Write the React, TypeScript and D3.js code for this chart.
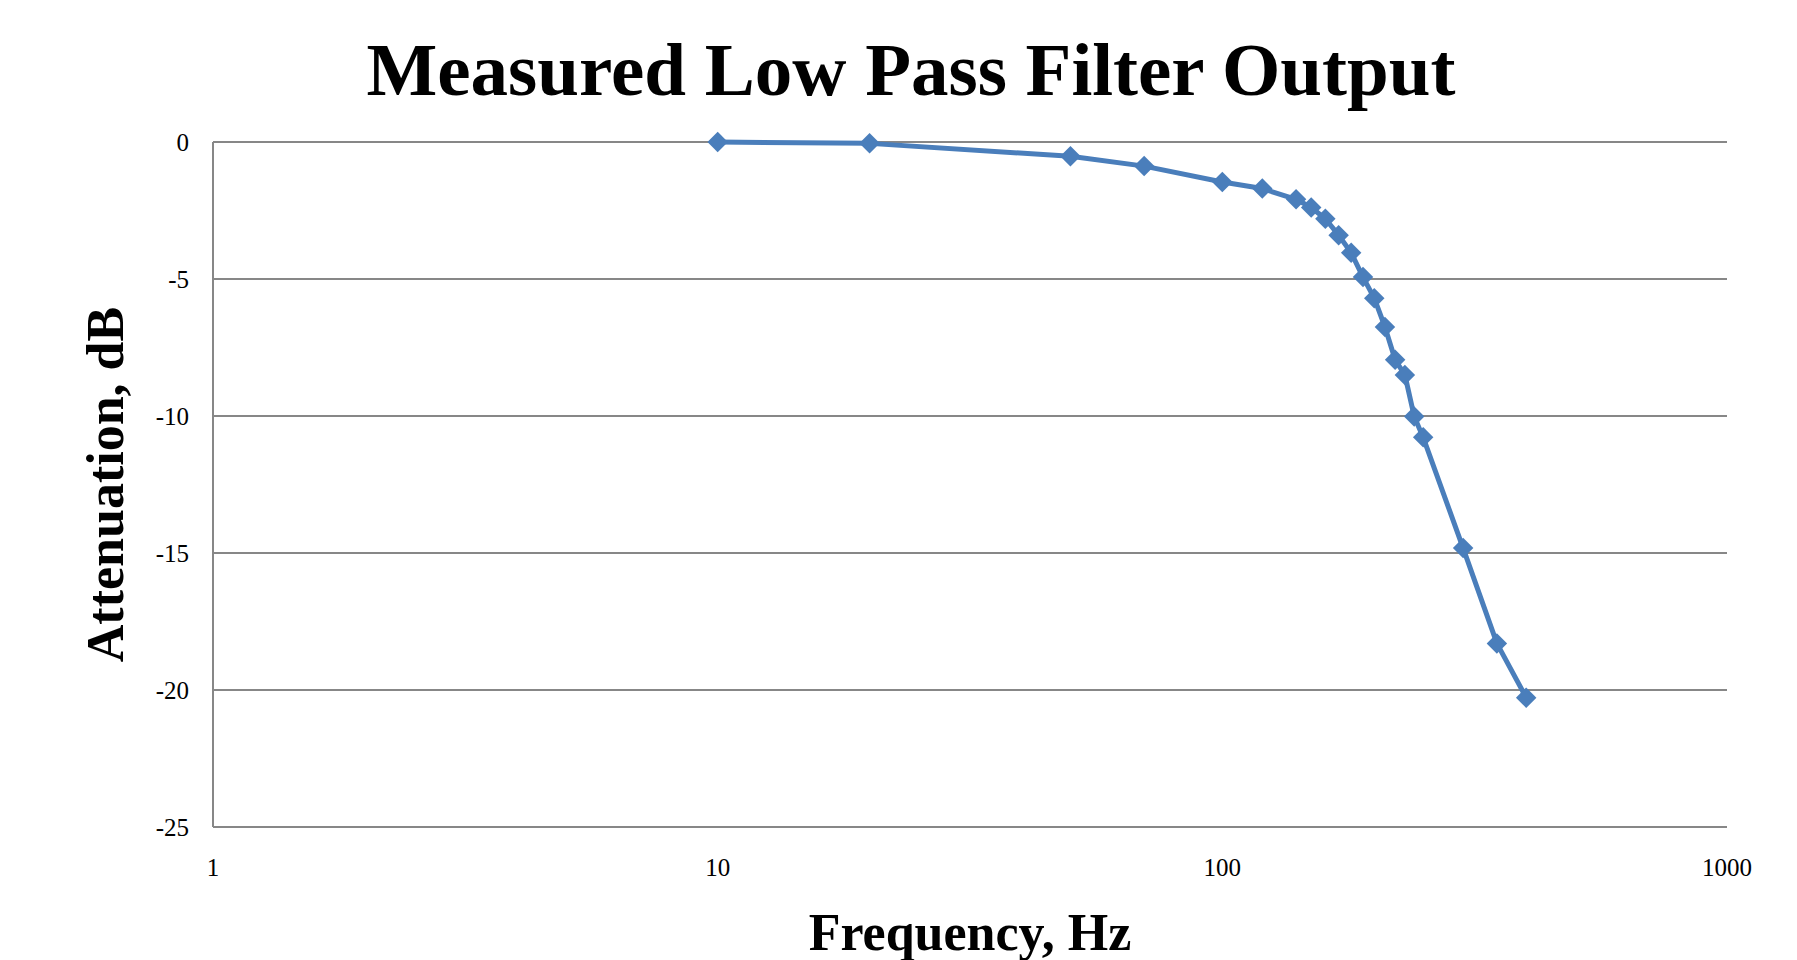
import { useEffect, useRef } from "react";
import * as d3 from "d3";

// measured points
const freqHz = [10, 20, 50, 70, 100, 120, 140, 150, 160, 170, 180, 190, 200, 210, 220, 230, 240, 250, 300, 350, 400];
const attenDb = [0, -0.05, -0.52, -0.88, -1.46, -1.7, -2.09, -2.39, -2.8, -3.4, -4.04, -4.93, -5.7, -6.75, -7.95, -8.5, -10.02, -10.78, -14.82, -18.3, -20.28];

const xTicks = [1, 10, 100, 1000];
const yTicks = [0, -5, -10, -15, -20, -25];

const chartTitle = "Measured Low Pass Filter Output";
const xTitle = "Frequency, Hz";
const yTitle = "Attenuation, dB";

const width = 1797;
const height = 960;
const margin = { top: 142, right: 70, bottom: 133, left: 213 };
const serif = "'Liberation Serif', 'Times New Roman', Times, serif";
const blue = "#4a7ebb";
const grid = "#878787";

export default function App() {
  const gRef = useRef<SVGGElement>(null);

  useEffect(() => {
    const g = d3.select(gRef.current);
    g.selectAll("*").remove();

    const innerW = width - margin.left - margin.right;
    const innerH = height - margin.top - margin.bottom;

    const x = d3.scaleLog().domain([1, 1000]).range([0, innerW]);
    const y = d3.scaleLinear().domain([-25, 0]).range([innerH, 0]);

    // horizontal gridlines
    g.append("g")
      .selectAll("line")
      .data(yTicks)
      .join("line")
      .attr("x1", 0)
      .attr("x2", innerW)
      .attr("y1", (d) => y(d))
      .attr("y2", (d) => y(d))
      .attr("stroke", grid)
      .attr("stroke-width", 2);

    // left axis line
    g.append("line")
      .attr("x1", 0)
      .attr("x2", 0)
      .attr("y1", y(0))
      .attr("y2", y(-25))
      .attr("stroke", grid)
      .attr("stroke-width", 2);

    // y tick labels
    g.append("g")
      .selectAll("text")
      .data(yTicks)
      .join("text")
      .attr("x", -24)
      .attr("y", (d) => y(d))
      .attr("dy", "0.35em")
      .attr("text-anchor", "end")
      .attr("font-family", serif)
      .attr("font-size", 25)
      .attr("fill", "#000")
      .text((d) => String(d));

    // x tick labels
    g.append("g")
      .selectAll("text")
      .data(xTicks)
      .join("text")
      .attr("x", (d) => x(d))
      .attr("y", innerH + 49)
      .attr("text-anchor", "middle")
      .attr("font-family", serif)
      .attr("font-size", 25)
      .attr("fill", "#000")
      .text((d) => String(d));

    const pts = freqHz.map((f, i) => ({ f, db: attenDb[i] }));

    const line = d3
      .line<{ f: number; db: number }>()
      .x((d) => x(d.f))
      .y((d) => y(d.db));

    g.append("path")
      .datum(pts)
      .attr("d", line)
      .attr("fill", "none")
      .attr("stroke", blue)
      .attr("stroke-width", 5)
      .attr("stroke-linejoin", "round");

    const diamond = d3.symbol().type(d3.symbolSquare).size(210);
    g.append("g")
      .selectAll("path")
      .data(pts)
      .join("path")
      .attr("d", diamond)
      .attr("transform", (d) => `translate(${x(d.f)},${y(d.db)}) rotate(45)`)
      .attr("fill", blue);
  }, []);

  return (
    <div style={{ position: "absolute", left: 0, top: 0 }}>
      <svg width={width} height={height} style={{ display: "block", background: "#fff" }}>
        <text
          x={911}
          y={95}
          textAnchor="middle"
          fontFamily={serif}
          fontWeight="bold"
          fontSize={75}
          fill="#000"
        >
          {chartTitle}
        </text>
        <text
          x={970}
          y={950}
          textAnchor="middle"
          fontFamily={serif}
          fontWeight="bold"
          fontSize={52}
          fill="#000"
        >
          {xTitle}
        </text>
        <text
          transform={`translate(123,${(margin.top + height - margin.bottom) / 2}) rotate(-90)`}
          textAnchor="middle"
          fontFamily={serif}
          fontWeight="bold"
          fontSize={52}
          fill="#000"
        >
          {yTitle}
        </text>
        <g ref={gRef} transform={`translate(${margin.left},${margin.top})`} />
      </svg>
    </div>
  );
}
